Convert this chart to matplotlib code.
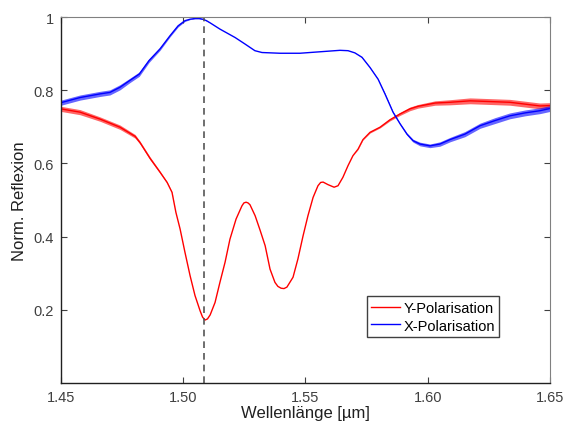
from matplotlib import pyplot as plt
import numpy as np

# values
x_blue = [1.4500, 1.4578, 1.4660, 1.4700, 1.4741, 1.4780, 1.4820, 1.4860, 1.4905, 1.4946,
          1.4979, 1.5007, 1.5028, 1.5048, 1.5065, 1.5080, 1.5095, 1.5110, 1.5150, 1.5212,
          1.5253, 1.5293, 1.5322, 1.5396, 1.5477, 1.5559, 1.5641, 1.5674, 1.5702, 1.5731,
          1.5764, 1.5797, 1.5825, 1.5858, 1.5887, 1.5915, 1.5940, 1.5968, 1.6009, 1.6050,
          1.6091, 1.6152, 1.6214, 1.6275, 1.6336, 1.6398, 1.6459, 1.6500]
y_blue = [0.766, 0.780, 0.790, 0.794, 0.808, 0.826, 0.844, 0.881, 0.913, 0.949,
          0.976, 0.990, 0.994, 0.996, 0.996, 0.994, 0.990, 0.984, 0.967, 0.944,
          0.926, 0.908, 0.903, 0.901, 0.901, 0.905, 0.909, 0.908, 0.902, 0.890,
          0.862, 0.830, 0.790, 0.740, 0.708, 0.680, 0.662, 0.653, 0.648, 0.653,
          0.665, 0.680, 0.703, 0.717, 0.730, 0.738, 0.744, 0.750]
# visible width of the noise band (half width)
n_blue = [0.007, 0.007, 0.007, 0.007, 0.007, 0.006, 0.006, 0.005, 0.004, 0.003,
          0.003, 0.002, 0.001, 0.001, 0.001, 0.001, 0.001, 0.000, 0.000, 0.000,
          0.000, 0.000, 0.000, 0.000, 0.000, 0.000, 0.000, 0.000, 0.000, 0.001,
          0.001, 0.001, 0.002, 0.002, 0.002, 0.003, 0.004, 0.005, 0.005, 0.006,
          0.006, 0.007, 0.007, 0.008, 0.008, 0.008, 0.008, 0.008]

x_red = [1.4500, 1.4578, 1.4660, 1.4741, 1.4803, 1.4823, 1.4864, 1.4905, 1.4934, 1.4954,
         1.4970, 1.4987, 1.5007, 1.5028, 1.5048, 1.5069, 1.5079, 1.5089, 1.5099, 1.5110,
         1.5130, 1.5150, 1.5171, 1.5191, 1.5216, 1.5240, 1.5248, 1.5257, 1.5265, 1.5273,
         1.5294, 1.5314, 1.5335, 1.5355, 1.5375, 1.5387, 1.5400, 1.5412, 1.5424, 1.5449,
         1.5469, 1.5490, 1.5510, 1.5531, 1.5551, 1.5562, 1.5572, 1.5592, 1.5617, 1.5633,
         1.5653, 1.5674, 1.5694, 1.5715, 1.5735, 1.5764, 1.5805, 1.5845, 1.5886, 1.5927,
         1.5960, 1.6030, 1.6090, 1.6173, 1.6255, 1.6336, 1.6398, 1.6459, 1.6500]
y_red = [0.749, 0.740, 0.721, 0.699, 0.674, 0.657, 0.614, 0.576, 0.548, 0.521,
         0.466, 0.421, 0.357, 0.293, 0.239, 0.197, 0.180, 0.172, 0.175, 0.186,
         0.220, 0.275, 0.330, 0.393, 0.448, 0.484, 0.492, 0.494, 0.492, 0.487,
         0.457, 0.418, 0.375, 0.311, 0.275, 0.264, 0.259, 0.258, 0.262, 0.289,
         0.339, 0.402, 0.457, 0.507, 0.539, 0.548, 0.549, 0.542, 0.535, 0.539,
         0.562, 0.594, 0.621, 0.639, 0.665, 0.685, 0.699, 0.719, 0.735, 0.749,
         0.756, 0.765, 0.767, 0.771, 0.769, 0.767, 0.762, 0.757, 0.758]
n_red = [0.007, 0.007, 0.006, 0.006, 0.005, 0.004, 0.004, 0.003, 0.002, 0.001,
         0.000, 0.000, 0.000, 0.000, 0.000, 0.000, 0.000, 0.000, 0.000, 0.000,
         0.000, 0.000, 0.000, 0.000, 0.000, 0.000, 0.000, 0.000, 0.000, 0.000,
         0.000, 0.000, 0.000, 0.000, 0.000, 0.000, 0.000, 0.000, 0.000, 0.000,
         0.000, 0.000, 0.000, 0.000, 0.000, 0.000, 0.000, 0.000, 0.000, 0.000,
         0.000, 0.000, 0.000, 0.001, 0.001, 0.002, 0.002, 0.003, 0.004, 0.005,
         0.005, 0.006, 0.007, 0.008, 0.008, 0.008, 0.008, 0.008, 0.008]

x_marker = 1.5085
xticks = [1.45, 1.50, 1.55, 1.60, 1.65]
yticks = [0.2, 0.4, 0.6, 0.8, 1.0]
ytick_labels = ['0.2', '0.4', '0.6', '0.8', '1']

plt.rcParams['font.family'] = ['Liberation Sans', 'DejaVu Sans']

fig = plt.figure(figsize=(5.66, 4.27), dpi=100)
ax = fig.add_axes([0.1078, 0.1007, 0.8639, 0.8571])

xb = np.array(x_blue); yb = np.array(y_blue); nb = np.array(n_blue)
xr = np.array(x_red); yr = np.array(y_red); nr = np.array(n_red)

ax.fill_between(xr, yr - nr, yr + nr, color='#ff0000', lw=0, alpha=0.6)
ax.fill_between(xb, yb - nb, yb + nb, color='#0000ff', lw=0, alpha=0.6)
ax.plot(xr, yr, color='#ff0000', lw=1.0, label='Y-Polarisation')
ax.plot(xb, yb, color='#0000ff', lw=1.0, label='X-Polarisation')
ax.plot([x_marker, x_marker], [0, 1], color='#555555', lw=1.2, ls=(0, (4, 3)))

ax.set_xlim(1.45, 1.65)
ax.set_ylim(0, 1)
ax.set_xticks(xticks)
ax.set_xticklabels(['%.2f' % v for v in xticks])
ax.set_yticks(yticks)
ax.set_yticklabels(ytick_labels)
ax.tick_params(direction='in', top=True, right=True, length=4, labelsize=10.5,
               labelcolor='#404040', color='#404040', pad=5)
for s in ['top', 'right']:
    ax.spines[s].set_color('#808080')
for s in ['left', 'bottom']:
    ax.spines[s].set_color('#202020')
    ax.spines[s].set_linewidth(1.0)

ax.set_xlabel('Wellenlänge [µm]', fontsize=12, color='#202020', labelpad=1)
ax.set_ylabel('Norm. Reflexion', fontsize=12, color='#202020', labelpad=5)

leg = ax.legend(loc='lower right', bbox_to_anchor=(0.896, 0.126), fontsize=10.5,
                fancybox=False, edgecolor='#404040', framealpha=1,
                handlelength=2.0, handletextpad=0.2, borderpad=0.3, labelspacing=0.25,
                borderaxespad=0)
leg.get_frame().set_linewidth(1.0)

plt.savefig('out.png', dpi=100)
